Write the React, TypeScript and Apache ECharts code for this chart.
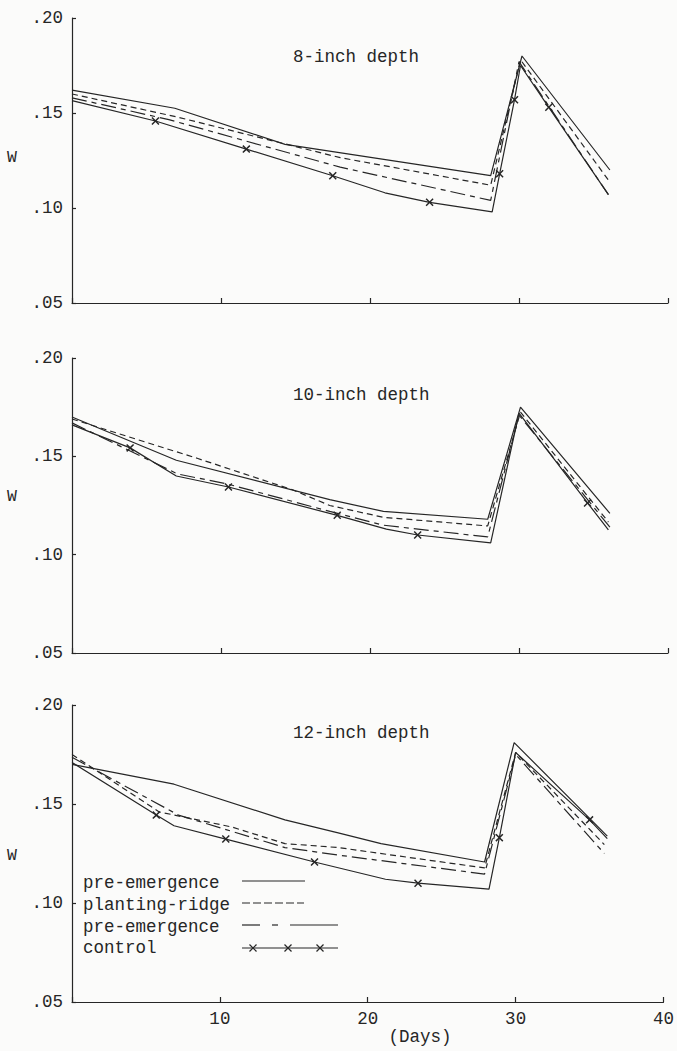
import React, { useEffect, useRef } from "react";
import * as echarts from "echarts";

// ---- axis / labels ----
const xTickValues = [0, 10, 20, 30, 40];
const yTickValues = [0.05, 0.1, 0.15, 0.2];
const panelTitles = ["8-inch depth", "10-inch depth", "12-inch depth"];
const legendNames = ["pre-emergence", "planting-ridge", "pre-emergence", "control"];
const xAxisTitle = "(Days)";
const yAxisTitle = "W";

// ---- 8-inch depth ----
const pre8 = [[0, 0.162], [6.9, 0.1525], [14.3, 0.1335], [28.1, 0.117], [30.2, 0.18], [36.1, 0.12]];
const ridge8 = [[0, 0.16], [7, 0.148], [18, 0.1265], [28.1, 0.112], [30.1, 0.178], [36, 0.1147]];
const preB8 = [[0, 0.158], [6.5, 0.1465], [18, 0.1215], [28.1, 0.104], [30.0, 0.177], [36, 0.107]];
// [day, W, marker?]
const ctrl8 = [[0, 0.1565, 0], [5.6, 0.1458, 1], [11.7, 0.131, 1], [17.5, 0.117, 1], [21, 0.108, 0], [24, 0.103, 1], [28.2, 0.098, 0], [28.7, 0.118, 1], [29.7, 0.157, 1], [30.1, 0.175, 0], [32, 0.153, 1], [36, 0.107, 0]];

// ---- 10-inch depth ----
const pre10 = [[0, 0.17], [7.0, 0.148], [17.3, 0.128], [20.9, 0.122], [27.9, 0.118], [30.1, 0.175], [36.1, 0.121]];
const ridge10 = [[0, 0.169], [8.4, 0.149], [14.8, 0.133], [17.3, 0.125], [20.9, 0.119], [27.9, 0.1146], [30.1, 0.1725], [36, 0.1166]];
const preB10 = [[0, 0.167], [7.1, 0.141], [10.4, 0.136], [17.3, 0.122], [20.9, 0.115], [27.9, 0.109], [30.0, 0.171], [36.1, 0.114]];
const ctrl10 = [[0, 0.166, 0], [3.9, 0.1543, 1], [7.0, 0.14, 0], [10.5, 0.1344, 1], [17.8, 0.12, 1], [21.1, 0.113, 0], [23.2, 0.11, 1], [28.1, 0.106, 0], [30, 0.172, 0], [34.6, 0.1263, 1], [36, 0.1126, 0]];

// ---- 12-inch depth ----
const pre12 = [[0, 0.17], [6.9, 0.16], [14.4, 0.142], [18, 0.1354], [20.9, 0.13], [27.9, 0.1207], [29.9, 0.181], [36.2, 0.1338]];
const ridge12 = [[0, 0.175], [5.9, 0.146], [10.8, 0.1384], [14.4, 0.13], [18, 0.128], [27.9, 0.1177], [30, 0.176], [36, 0.1295]];
const preB12 = [[0, 0.1736], [7.2, 0.1444], [14.4, 0.128], [18, 0.1242], [27.9, 0.1146], [30, 0.175], [36, 0.125]];
const ctrl12 = [[0, 0.171, 0], [5.7, 0.1444, 1], [6.9, 0.139, 0], [10.4, 0.1323, 1], [16.4, 0.1207, 1], [21.2, 0.112, 0], [23.4, 0.11, 1], [28.2, 0.107, 0], [28.9, 0.133, 1], [30, 0.176, 0], [35, 0.142, 1], [36.2, 0.1325, 0]];

const panels = [
  { pre: pre8, ridge: ridge8, preB: preB8, ctrl: ctrl8 },
  { pre: pre10, ridge: ridge10, preB: preB10, ctrl: ctrl10 },
  { pre: pre12, ridge: ridge12, preB: preB12, ctrl: ctrl12 },
];

const INK = "#262626";
const TEXT = "#262626";
const FONT = '"Liberation Mono", "DejaVu Sans Mono", monospace';
const FS = 17.5;
const XMARK = "path://M0,1.3L1.3,0L5,3.7L8.7,0L10,1.3L6.3,5L10,8.7L8.7,10L5,6.3L1.3,10L0,8.7L3.7,5Z";

export default function App() {
  const ref = useRef<HTMLDivElement>(null);
  useEffect(() => {
    document.body.style.margin = "0";
    const chart = echarts.init(ref.current!, null, { renderer: "svg" });

    const grids = [
      { left: 72, top: 18, width: 596, height: 285 },
      { left: 72, top: 358, width: 596, height: 295 },
      { left: 72, top: 705, width: 596, height: 297 },
    ];

    const xAxes = grids.map((_, i) => ({
      type: "value",
      gridIndex: i,
      min: xTickValues[0],
      max: xTickValues[xTickValues.length - 1],
      interval: 10,
      axisLine: { lineStyle: { color: INK, width: 1.2 } },
      axisTick: { show: true, inside: true, length: 5, lineStyle: { color: INK, width: 1.2 } },
      splitLine: { show: false },
      axisLabel: {
        show: i === 2,
        color: TEXT,
        fontFamily: FONT,
        fontSize: FS,
        margin: 8,
        formatter: (v: number) => (v === 0 ? "" : String(v)),
      },
    }));

    const yAxes = grids.map((_, i) => ({
      type: "value",
      gridIndex: i,
      min: yTickValues[0],
      max: yTickValues[yTickValues.length - 1],
      interval: 0.05,
      axisLine: { show: true, lineStyle: { color: INK, width: 1.2 } },
      axisTick: { show: true, inside: true, length: 4, lineStyle: { color: INK, width: 1.2 } },
      splitLine: { show: false },
      axisLabel: {
        color: TEXT,
        fontFamily: FONT,
        fontSize: FS,
        margin: 9,
        formatter: (v: number) => v.toFixed(2).replace(/^0/, ""),
      },
    }));

    const series: any[] = [];
    panels.forEach((p, i) => {
      const base = { type: "line", xAxisIndex: i, yAxisIndex: i, symbol: "none", silent: true };
      series.push({ ...base, name: legendNames[0], data: p.pre, lineStyle: { color: INK, width: 1.2, type: "solid" } });
      series.push({ ...base, name: legendNames[1], data: p.ridge, lineStyle: { color: INK, width: 1.2, type: [6, 4] } });
      series.push({ ...base, name: legendNames[2] + " ", data: p.preB, lineStyle: { color: INK, width: 1.2, type: [15, 5, 5, 5] } });
      series.push({
        ...base,
        name: legendNames[3],
        symbol: XMARK,
        symbolSize: 8,
        showSymbol: true,
        showAllSymbol: true,
        itemStyle: { color: INK },
        data: p.ctrl.map(([x, y, m]) => (m ? { value: [x, y] } : { value: [x, y], symbol: "none" })),
        lineStyle: { color: INK, width: 1.2, type: "solid" },
      });
    });

    const txt = (text: string, x: number, y: number, size = FS, align = "left") => ({
      type: "text",
      x,
      y,
      silent: true,
      style: { text, font: `${size}px ${FONT}`, fill: TEXT, textAlign: align, textVerticalAlign: "middle" },
    });
    const seg = (x1: number, y1: number, x2: number, y2: number, dash?: number[]) => ({
      type: "line",
      silent: true,
      shape: { x1, y1, x2, y2 },
      style: { stroke: INK, lineWidth: 1.2, lineDash: dash },
    });
    const xm = (cx: number, cy: number) => [seg(cx - 3.5, cy - 3.5, cx + 3.5, cy + 3.5), seg(cx - 3.5, cy + 3.5, cx + 3.5, cy - 3.5)];

    const titleY = [57, 395, 733];
    const wY = [157, 496, 855];
    const legY = [883, 905, 927, 948];

    const graphics: any[] = [];
    panelTitles.forEach((t, i) => graphics.push(txt(t, 293, titleY[i])));
    wY.forEach((y) => graphics.push(txt(yAxisTitle, 7, y, 16.5)));
    graphics.push(txt(xAxisTitle, 420, 1037, FS, "center"));
    legendNames.forEach((n, i) => graphics.push(txt(n, 83, legY[i], FS)));
    graphics.push(seg(242, 881, 305, 881));
    graphics.push(seg(242, 903, 304, 903, [8, 3]));
    graphics.push(seg(242, 925, 260, 925));
    graphics.push(seg(272, 925, 278, 925));
    graphics.push(seg(290, 925, 338, 925));
    graphics.push(seg(242, 948, 338, 948));
    [253, 288, 320].forEach((cx) => graphics.push(...xm(cx, 948)));

    chart.setOption({
      animation: false,
      backgroundColor: "#fbfbfa",
      grid: grids,
      xAxis: xAxes,
      yAxis: yAxes,
      series,
      graphic: graphics,
    });
    return () => chart.dispose();
  }, []);
  return <div ref={ref} style={{ width: 677, height: 1051 }} />;
}
